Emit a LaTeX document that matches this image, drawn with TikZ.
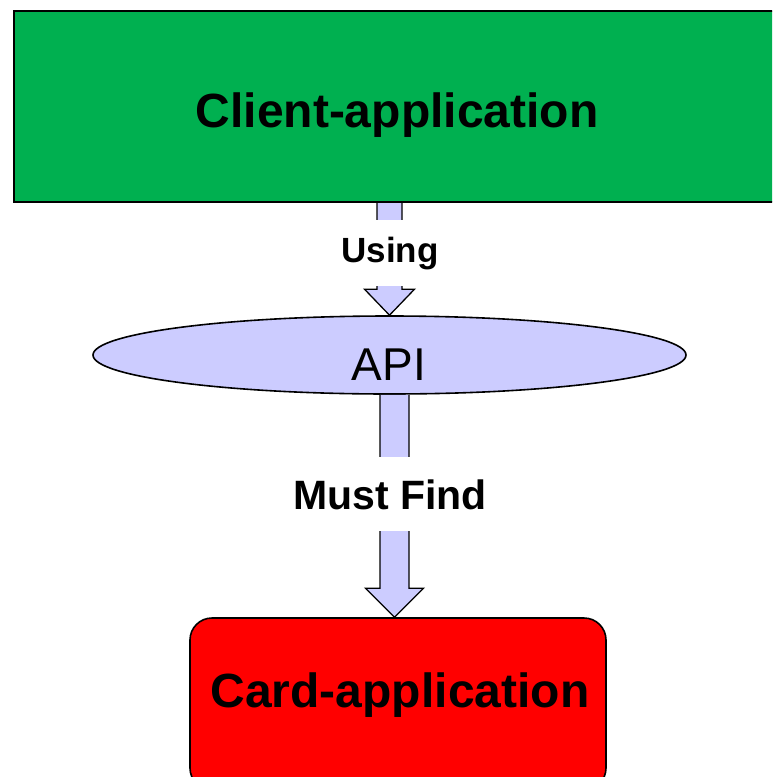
\documentclass[tikz,border=0pt]{standalone}
\usepackage{fontspec}
\setmainfont{Liberation Sans}
\usetikzlibrary{calc,shapes.geometric}
\definecolor{clientgreen}{RGB}{0,176,80}
\definecolor{apiblue}{RGB}{204,204,255}
\tikzset{
  box/.style={draw=black, line width=1.6pt, inner sep=0pt},
  boxtext/.style={anchor=base, font=\bfseries\fontsize{48}{50}\selectfont},
  flowlabel/.style={anchor=base, fill=white, inner xsep=6pt},
  arrowbody/.style={fill=apiblue, draw=black, line width=1.3pt, line join=miter},
}
% block arrow: from, to, shaft half width, head half width, head length
\newcommand\blockarrow[5]{%
  \draw[arrowbody] ($(#1)+(-#3,0)$) -- ($(#2)+(-#3,-#5)$) -- ($(#2)+(-#4,-#5)$)
    -- (#2) -- ($(#2)+(#4,-#5)$) -- ($(#2)+(#3,-#5)$) -- ($(#1)+(#3,0)$);
}
\begin{document}
\begin{tikzpicture}[x=1pt,y=-1pt]
\useasboundingbox (0,0) rectangle (772,777);
\clip (0,0) rectangle (772,777);
% boxes
\node[box, fill=clientgreen, line width=2pt, minimum width=766, minimum height=191] (client) at (397,106.5) {};
\node[box, ellipse, fill=apiblue, minimum width=593, minimum height=78] (api) at (389.5,355) {};
\node[box, fill=red, rounded corners=22, minimum width=416, minimum height=172] (card) at (398,704) {};
% texts
\node[boxtext] (clienttext) at (397,127) {Client-application};
\node[boxtext] (cardtext) at (400,707) {Card-application};
\node[anchor=base, font=\fontsize{46}{48}\selectfont] (apitext) at (389,380) {API};
% arrows
\coordinate (usingtop) at (client.south -| api.north);
\blockarrow{usingtop}{api.north}{12.5}{25}{26}
\coordinate (findtop) at ($(api.south)+(5,0)$);
\coordinate (findtip) at (findtop |- card.north);
\blockarrow{findtop}{findtip}{14.5}{29}{29}
% labels
\node[flowlabel, inner ysep=17pt, font=\bfseries\fontsize{35}{37}\selectfont] (using) at (390,262) {Using};
\node[flowlabel, inner ysep=22pt, font=\bfseries\fontsize{41}{43}\selectfont] (mustfind) at (390,509) {Must Find};
\end{tikzpicture}
\end{document}
